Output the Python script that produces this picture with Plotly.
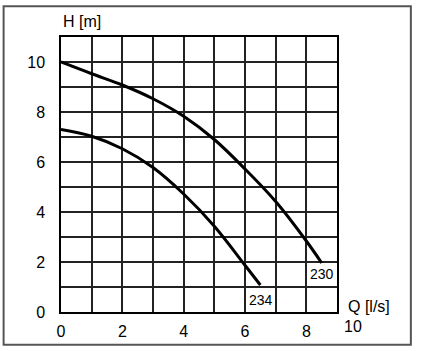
import plotly.graph_objects as go

# ---- data ----
q_230 = [0, 1, 2, 3, 4, 5, 6, 7, 8, 8.5]
h_230 = [10, 9.53, 9.08, 8.53, 7.83, 6.9, 5.72, 4.42, 2.84, 1.96]
q_234 = [0, 1, 2, 3, 4, 5, 6, 6.5]
h_234 = [7.3, 7.03, 6.53, 5.78, 4.72, 3.43, 1.87, 1.08]
x_ticks = [0, 1, 2, 3, 4, 5, 6, 7, 8, 9]
x_ticktext = ["0", "", "2", "", "4", "", "6", "", "8", ""]
y_ticks = [0, 1, 2, 3, 4, 5, 6, 7, 8, 9, 10, 11]
y_ticktext = ["0", "", "2", "", "4", "", "6", "", "8", "", "10", ""]

W, H = 421, 351
L, R, T, B = 61, 337.5, 36.7, 312.3

def px(x):
    return (x - L) / (R - L)

def py(y):
    return (B - y) / (B - T)

FONT = "Liberation Sans, Arial, sans-serif"

fig = go.Figure()
fig.add_trace(go.Scatter(x=q_230, y=h_230, mode="lines", line=dict(color="black", width=3, shape="spline", smoothing=1.0), showlegend=False, hoverinfo="skip"))
fig.add_trace(go.Scatter(x=q_234, y=h_234, mode="lines", line=dict(color="black", width=3, shape="spline", smoothing=1.0), showlegend=False, hoverinfo="skip"))

fig.update_layout(
    width=W, height=H,
    margin=dict(l=L, r=W - R, t=T, b=H - B, pad=0),
    paper_bgcolor="white", plot_bgcolor="white",
    font=dict(family=FONT, size=16, color="black"),
    showlegend=False,
)
fig.update_xaxes(range=[0, 9], tickmode="array", tickvals=x_ticks, ticktext=x_ticktext,
                 showgrid=True, gridcolor="#222", gridwidth=1.5, zeroline=False,
                 showline=True, linecolor="black", linewidth=1.5, mirror=True,
                 ticks="", ticklabelstandoff=4, fixedrange=True)
fig.update_yaxes(range=[0, 11], tickmode="array", tickvals=y_ticks, ticktext=y_ticktext,
                 showgrid=True, gridcolor="#222", gridwidth=1.5, zeroline=False,
                 showline=True, linecolor="black", linewidth=1.5, mirror=True,
                 ticks="", ticklabelstandoff=11, fixedrange=True)

# outer frame
fig.add_shape(type="rect", xref="paper", yref="paper",
              x0=px(3.5), x1=px(411.5), y0=py(345), y1=py(6),
              line=dict(color="#555", width=2), layer="below")

ann = [
    dict(text="H [m]", x=px(61), y=py(21.5), xanchor="left", yanchor="middle", size=16),
    dict(text="Q [l/s]", x=px(347), y=py(307), xanchor="left", yanchor="middle", size=16),
    dict(text="10", x=px(354), y=py(326.7), xanchor="center", yanchor="middle", size=16),
    dict(text="230", x=px(322.7), y=py(274), xanchor="center", yanchor="middle", size=14),
    dict(text="234", x=px(261.5), y=py(300), xanchor="center", yanchor="middle", size=14),
]
for a in ann:
    fig.add_annotation(text=a["text"], x=a["x"], y=a["y"], xref="paper", yref="paper",
                       xanchor=a["xanchor"], yanchor=a["yanchor"], showarrow=False,
                       font=dict(family=FONT, size=a["size"], color="black"))

fig.write_html("out.html")
